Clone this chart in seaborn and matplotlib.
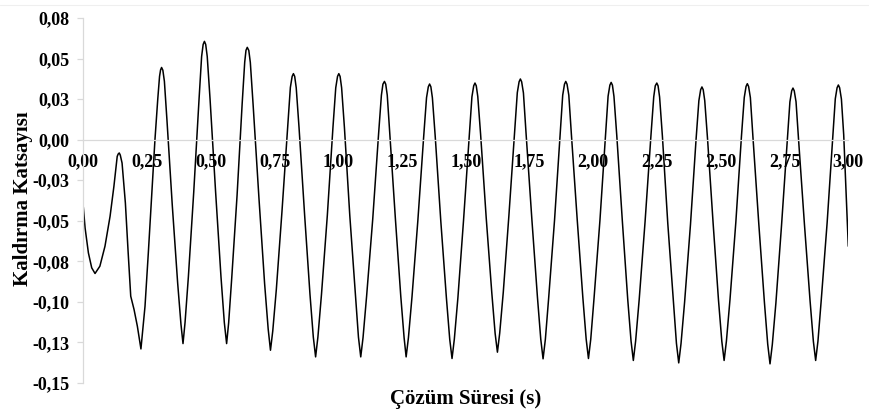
import matplotlib
matplotlib.use("Agg")
import matplotlib.pyplot as plt
from matplotlib.lines import Line2D
import seaborn as sns
import pandas as pd

# Lift coefficient history over the solution time (one row per half cycle)
time_s = [
    0.000, 0.007, 0.020, 0.033, 0.046, 0.065, 0.085, 0.105, 0.120, 0.133,
    0.137, 0.141, 0.145, 0.152, 0.165, 0.176, 0.186, 0.199, 0.212, 0.226,
    0.242, 0.255, 0.268, 0.281, 0.292, 0.299, 0.303, 0.307,
    0.312, 0.318, 0.328, 0.349, 0.370, 0.383, 0.391,
    0.399, 0.412, 0.433, 0.454, 0.464, 0.470, 0.475,
    0.480, 0.486, 0.497, 0.519, 0.540, 0.553, 0.562,
    0.570, 0.582, 0.603, 0.623, 0.633, 0.638, 0.643,
    0.649, 0.655, 0.666, 0.689, 0.711, 0.725, 0.734,
    0.743, 0.757, 0.779, 0.802, 0.812, 0.819, 0.824,
    0.829, 0.835, 0.846, 0.868, 0.889, 0.902, 0.911,
    0.920, 0.934, 0.957, 0.979, 0.990, 0.997, 1.002,
    1.007, 1.013, 1.024, 1.045, 1.067, 1.079, 1.088,
    1.097, 1.111, 1.135, 1.158, 1.169, 1.175, 1.181,
    1.186, 1.192, 1.202, 1.224, 1.245, 1.258, 1.266,
    1.275, 1.289, 1.312, 1.335, 1.346, 1.353, 1.358,
    1.363, 1.369, 1.380, 1.402, 1.424, 1.437, 1.446,
    1.455, 1.469, 1.491, 1.514, 1.524, 1.531, 1.536,
    1.541, 1.547, 1.558, 1.580, 1.602, 1.615, 1.624,
    1.633, 1.647, 1.669, 1.692, 1.702, 1.709, 1.714,
    1.719, 1.726, 1.736, 1.759, 1.781, 1.794, 1.803,
    1.812, 1.825, 1.848, 1.870, 1.880, 1.887, 1.892,
    1.897, 1.904, 1.914, 1.937, 1.959, 1.972, 1.981,
    1.990, 2.003, 2.026, 2.048, 2.058, 2.065, 2.070,
    2.075, 2.081, 2.092, 2.114, 2.135, 2.148, 2.157,
    2.166, 2.180, 2.203, 2.226, 2.237, 2.243, 2.249,
    2.254, 2.260, 2.271, 2.292, 2.314, 2.326, 2.335,
    2.344, 2.358, 2.381, 2.403, 2.414, 2.421, 2.426,
    2.431, 2.437, 2.448, 2.470, 2.491, 2.504, 2.513,
    2.522, 2.536, 2.559, 2.581, 2.592, 2.599, 2.604,
    2.609, 2.616, 2.626, 2.649, 2.671, 2.684, 2.693,
    2.702, 2.716, 2.738, 2.761, 2.771, 2.778, 2.783,
    2.788, 2.795, 2.805, 2.828, 2.850, 2.863, 2.872,
    2.881, 2.894, 2.917, 2.939, 2.949, 2.956, 2.961,
    2.966, 2.973, 2.982, 2.991, 3.000,
]

lift_coef = [
    -0.0415, -0.0544, -0.0698, -0.0790, -0.0825, -0.0780, -0.0657, -0.0472, -0.0288, -0.0103,
    -0.0088, -0.0082, -0.0095, -0.0144, -0.0390, -0.0698, -0.0965, -0.1047, -0.1150, -0.1290,
    -0.1027, -0.0698, -0.0349, 0.0000, 0.0250, 0.0390, 0.0430, 0.0445,
    0.0428, 0.0360, 0.0122, -0.0406, -0.0883, -0.1138, -0.1257,
    -0.1127, -0.0847, -0.0325, 0.0252, 0.0513, 0.0587, 0.0606,
    0.0587, 0.0513, 0.0252, -0.0326, -0.0847, -0.1127, -0.1257,
    -0.1129, -0.0855, -0.0344, 0.0222, 0.0478, 0.0551, 0.0569,
    0.0550, 0.0476, 0.0214, -0.0365, -0.0887, -0.1167, -0.1298,
    -0.1179, -0.0923, -0.0445, 0.0083, 0.0322, 0.0390, 0.0407,
    0.0390, 0.0320, 0.0075, -0.0466, -0.0955, -0.1217, -0.1339,
    -0.1217, -0.0955, -0.0466, 0.0075, 0.0320, 0.0390, 0.0407,
    0.0390, 0.0320, 0.0075, -0.0466, -0.0955, -0.1217, -0.1339,
    -0.1220, -0.0965, -0.0490, 0.0036, 0.0274, 0.0342, 0.0359,
    0.0342, 0.0274, 0.0036, -0.0490, -0.0965, -0.1220, -0.1339,
    -0.1221, -0.0969, -0.0498, 0.0023, 0.0259, 0.0326, 0.0343,
    0.0326, 0.0258, 0.0022, -0.0503, -0.0977, -0.1231, -0.1349,
    -0.1230, -0.0975, -0.0500, 0.0026, 0.0264, 0.0332, 0.0349,
    0.0332, 0.0266, 0.0034, -0.0481, -0.0945, -0.1194, -0.1310,
    -0.1192, -0.0940, -0.0468, 0.0054, 0.0290, 0.0357, 0.0374,
    0.0357, 0.0288, 0.0046, -0.0489, -0.0972, -0.1230, -0.1351,
    -0.1231, -0.0975, -0.0496, 0.0034, 0.0274, 0.0342, 0.0359,
    0.0342, 0.0274, 0.0034, -0.0495, -0.0973, -0.1229, -0.1349,
    -0.1230, -0.0975, -0.0498, 0.0030, 0.0268, 0.0336, 0.0353,
    0.0336, 0.0267, 0.0027, -0.0504, -0.0984, -0.1241, -0.1361,
    -0.1241, -0.0985, -0.0506, 0.0024, 0.0264, 0.0332, 0.0349,
    0.0332, 0.0263, 0.0021, -0.0514, -0.0997, -0.1255, -0.1376,
    -0.1257, -0.1002, -0.0525, 0.0002, 0.0240, 0.0308, 0.0325,
    0.0308, 0.0241, 0.0005, -0.0518, -0.0990, -0.1243, -0.1361,
    -0.1242, -0.0986, -0.0508, 0.0021, 0.0260, 0.0328, 0.0345,
    0.0328, 0.0259, 0.0017, -0.0519, -0.1002, -0.1261, -0.1382,
    -0.1263, -0.1008, -0.0532, -0.0005, 0.0233, 0.0301, 0.0318,
    0.0301, 0.0234, -0.0001, -0.0522, -0.0992, -0.1243, -0.1361,
    -0.1242, -0.0987, -0.0512, 0.0014, 0.0252, 0.0320, 0.0337,
    0.0320, 0.0250, 0.0030, -0.0320, -0.0657,
]

x_ticks = [0.00, 0.25, 0.50, 0.75, 1.00, 1.25, 1.50, 1.75, 2.00, 2.25, 2.50, 2.75, 3.00]
x_tick_labels = ["0,00", "0,25", "0,50", "0,75", "1,00", "1,25", "1,50",
                 "1,75", "2,00", "2,25", "2,50", "2,75", "3,00"]
y_ticks = [-0.150, -0.125, -0.100, -0.075, -0.050, -0.025, 0.000, 0.025, 0.050, 0.075]
y_tick_labels = ["-0,15", "-0,13", "-0,10", "-0,08", "-0,05", "-0,03",
                 "0,00", "0,03", "0,05", "0,08"]

sns.set_theme(style="white")
plt.rcParams["font.family"] = ["Liberation Serif", "DejaVu Serif"]
plt.rcParams["font.weight"] = "bold"

W, H = 869, 412
fig = plt.figure(figsize=(W / 100, H / 100), dpi=100)
ax = fig.add_axes([83.3 / W, 29 / H, 765 / W, 365 / H])

df = pd.DataFrame({"t": time_s, "cl": lift_coef})
sns.lineplot(data=df, x="t", y="cl", ax=ax, color="black", linewidth=1.1,
             estimator=None, sort=False)
for ln in ax.get_lines():
    ln.set_solid_joinstyle("round")
    ln.set_solid_capstyle("round")

ax.set_xlim(0, 3.0)
ax.set_ylim(-0.15, 0.075)

grey = "#d9d9d9"
for side in ["top", "right"]:
    ax.spines[side].set_visible(False)
ax.spines["bottom"].set_position(("data", 0))
ax.spines["bottom"].set_color(grey)
ax.spines["left"].set_color(grey)
ax.spines["bottom"].set_linewidth(0.9)
ax.spines["left"].set_linewidth(0.9)

ax.set_xticks(x_ticks)
ax.set_xticklabels(x_tick_labels)
ax.set_yticks(y_ticks)
ax.set_yticklabels(y_tick_labels)
ax.tick_params(axis="x", bottom=True, length=0, pad=10, labelsize=13, labelcolor="black")
ax.tick_params(axis="y", left=True, length=4, width=0.9, color=grey, direction="out",
               pad=6, labelsize=13, labelcolor="black")
for lab in ax.get_xticklabels() + ax.get_yticklabels():
    lab.set_fontweight("bold")

ax.set_xlabel("Çözüm Süresi (s)", fontsize=15, fontweight="bold", color="black")
ax.xaxis.label.set_va("center")
ax.xaxis.set_label_coords(0.5, -0.044)
ax.set_ylabel("Kaldırma Katsayısı", fontsize=15, fontweight="bold", color="black")
ax.yaxis.label.set_va("center")
ax.yaxis.set_label_coords(-0.079, 0.504)

# faint chart-area border line along the top
fig.add_artist(Line2D([0, 1], [1 - 4.5 / H, 1 - 4.5 / H], transform=fig.transFigure,
                      color="#efefef", linewidth=0.8))

fig.savefig("out.png", dpi=100, facecolor="white")
